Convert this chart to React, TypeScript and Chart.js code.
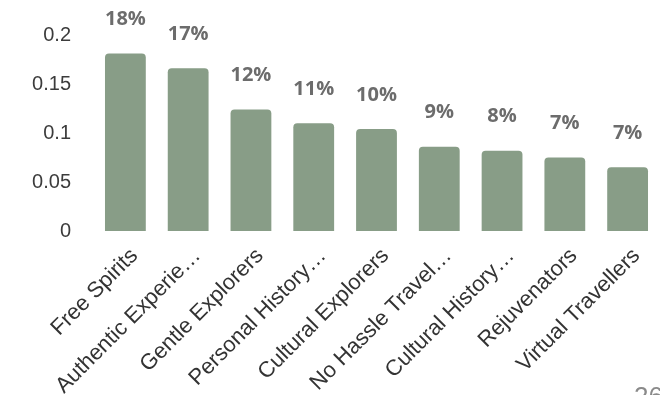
import React, { useEffect, useRef } from 'react';
import { Chart, registerables } from 'chart.js';
Chart.register(...registerables);

const categories = [
  'Free Spirits',
  'Authentic Experie…',
  'Gentle Explorers',
  'Personal History…',
  'Cultural Explorers',
  'No Hassle Travel…',
  'Cultural History…',
  'Rejuvenators',
  'Virtual Travellers',
];
const shares = [0.181, 0.166, 0.124, 0.11, 0.104, 0.086, 0.082, 0.075, 0.065];
const shareLabels = ['18%', '17%', '12%', '11%', '10%', '9%', '8%', '7%', '7%'];
const pageNumber = '26';

const valueLabels = {
  id: 'valueLabels',
  afterDatasetsDraw(chart: any) {
    const ctx = chart.ctx;
    const meta = chart.getDatasetMeta(0);
    ctx.save();
    ctx.font = 'bold 20px "Open Sans", "Liberation Sans", Arial, sans-serif';
    ctx.fillStyle = '#6c6c6c';
    ctx.textAlign = 'center';
    ctx.textBaseline = 'middle';
    meta.data.forEach((bar: any, i: number) => {
      ctx.fillText(shareLabels[i], bar.x, bar.y - 34);
    });
    ctx.restore();
  },
};

export default function App() {
  const ref = useRef<HTMLCanvasElement | null>(null);
  useEffect(() => {
    if (!ref.current) return;
    const chart = new Chart(ref.current, {
      type: 'bar',
      data: {
        labels: categories,
        datasets: [
          {
            data: shares,
            backgroundColor: '#889d87',
            borderRadius: 4,
            borderSkipped: 'bottom',
            categoryPercentage: 1,
            barPercentage: 0.65,
          },
        ],
      },
      options: {
        responsive: false,
        animation: false,
        layout: { padding: { top: 33, right: 1, left: 0, bottom: 0 } },
        plugins: { legend: { display: false }, tooltip: { enabled: false } },
        scales: {
          y: {
            min: 0,
            max: 0.2,
            ticks: {
              stepSize: 0.05,
              font: { family: '"Liberation Sans", Arial, sans-serif', size: 20 },
              color: '#3c3c3c',
              padding: 23,
              callback: (v: any) => String(Number(Number(v).toFixed(2))),
            },
            grid: { display: false, drawTicks: false },
            border: { display: false },
            afterFit: (s: any) => {
              s.width = 94;
            },
          },
          x: {
            ticks: {
              autoSkip: false,
              maxRotation: 45,
              minRotation: 45,
              font: { family: '"Liberation Sans", Arial, sans-serif', size: 22 },
              color: '#333333',
              padding: 12,
              labelOffset: 9,
            },
            grid: { display: false, drawTicks: false },
            border: { display: false },
            afterFit: (s: any) => {
              s.height = 164;
            },
          },
        },
      },
      plugins: [valueLabels],
    });
    return () => chart.destroy();
  }, []);
  return (
    <div
      style={{
        position: 'absolute',
        left: 0,
        top: 0,
        width: 660,
        height: 395,
        overflow: 'hidden',
        background: '#ffffff',
      }}
    >
      <canvas ref={ref} width={660} height={395} />
      <div
        style={{
          position: 'absolute',
          left: 634,
          top: 381,
          fontFamily: '"Liberation Sans", Arial, sans-serif',
          fontSize: 26,
          color: '#8a8a8a',
          lineHeight: '30px',
        }}
      >
        {pageNumber}
      </div>
    </div>
  );
}
